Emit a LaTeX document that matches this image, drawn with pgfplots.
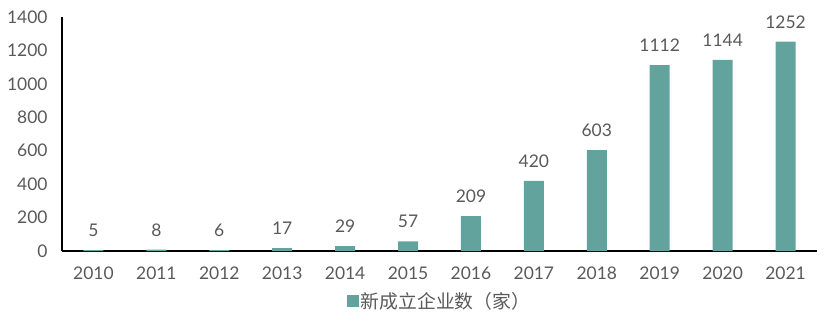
\documentclass[border=0pt]{standalone}
\usepackage{pgfplots}
\pgfplotsset{compat=1.18}
\usepackage{fontspec}
\setmainfont{Lato}
\newfontfamily\cjk{Noto Sans CJK SC}[Scale=1.18]
\definecolor{bar}{HTML}{62A39D}
\definecolor{txt}{HTML}{595959}
\begin{document}
\begin{tikzpicture}[x=1bp,y=1bp]
\useasboundingbox (0,0) rectangle (834,331);
\begin{axis}[
  at={(62bp,80bp)}, anchor=south west,
  scale only axis, width=755bp, height=234bp,
  xmin=-0.5, xmax=11.5, ymin=0, ymax=1400,
  ytick={0,200,...,1400},
  xtick={0,...,11},
  xticklabels={2010,2011,2012,2013,2014,2015,2016,2017,2018,2019,2020,2021},
  axis x line*=bottom, axis y line*=left,
  axis line style={black, line width=1.3bp, -},
  major tick length=0pt,
  tick label style={font=\fontsize{17.5}{19}\selectfont, text=txt},
  /pgf/number format/assume math mode=true,
  /pgf/number format/1000 sep={},
  yticklabel style={xshift=-11bp},
  xticklabel style={yshift=-12bp},
  ybar, bar width=20bp,
  nodes near coords,
  every node near coord/.append style={font=\fontsize{17.5}{19}\selectfont, text=txt, yshift=10bp},
  legend style={at={(0.5,-0.16)}, anchor=north, draw=none, fill=none,
    font=\cjk\fontsize{16}{18}\selectfont, text=txt},
  legend image code/.code={\fill[bar] (0bp,-6bp) rectangle (12bp,6bp);},
]
\addplot[fill=bar, draw=none] coordinates {
(0,5) (1,8) (2,6) (3,17) (4,29) (5,57) (6,209) (7,420) (8,603) (9,1112) (10,1144) (11,1252)};
\addlegendentry{新成立企业数（家）}
\end{axis}
\end{tikzpicture}
\end{document}
